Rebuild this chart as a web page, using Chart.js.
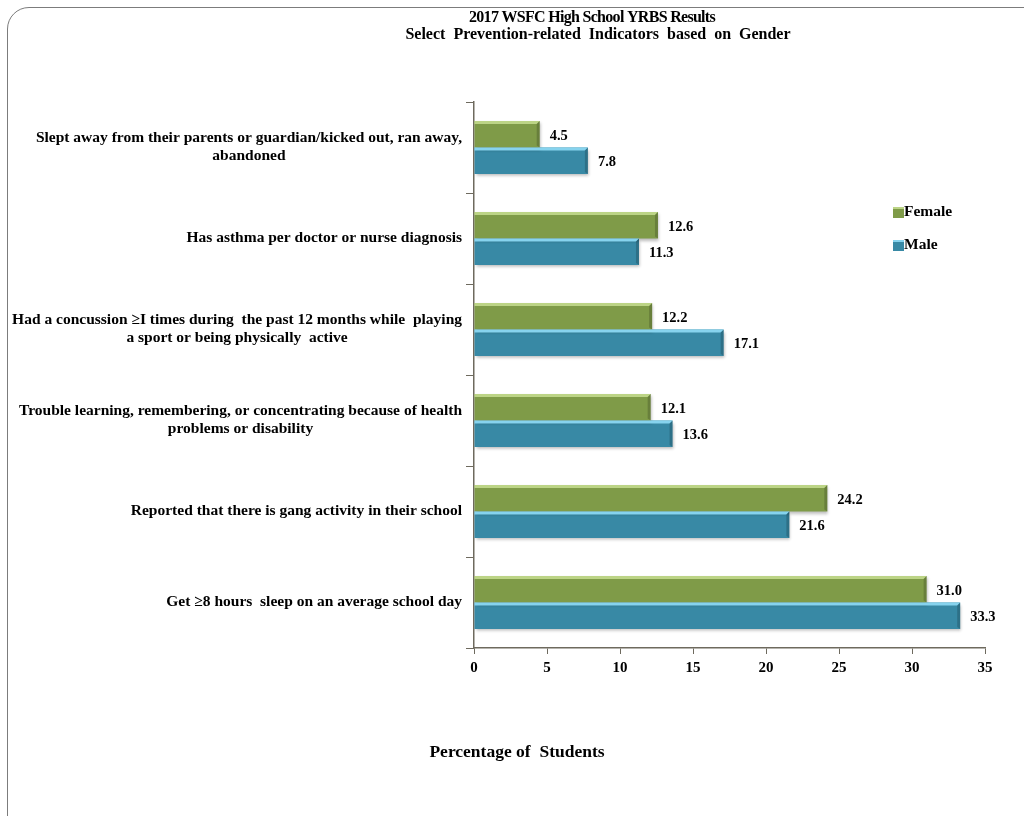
<!DOCTYPE html>
<html>
<head>
<meta charset="utf-8">
<script src="https://cdn.jsdelivr.net/npm/chart.js@4.4.1/dist/chart.umd.min.js"></script>
<style>
  html, body { margin: 0; padding: 0; background: #fff; overflow: hidden; }
  #frame {
    position: absolute; left: 7px; top: 7px; width: 1100px; height: 900px;
    border: 1.5px solid #7c7c7c; border-radius: 22px; box-sizing: border-box;
  }
  #wrap { position: absolute; left: 0; top: 0; width: 1024px; height: 816px; }
</style>
</head>
<body>
<div id="frame"></div>
<div id="wrap"><canvas id="c" width="1024" height="816"></canvas></div>
<script>
// ---- data ------------------------------------------------------------
const categories = [
  ['Slept away from their parents or guardian/kicked out, ran away,', 'abandoned'],
  ['Has asthma per doctor or nurse diagnosis'],
  ['Had a concussion \u2265I times during  the past 12 months while  playing', 'a sport or being physically  active'],
  ['Trouble learning, remembering, or concentrating because of health', 'problems or disability'],
  ['Reported that there is gang activity in their school'],
  ['Get \u22658 hours  sleep on an average school day'],
];
const femaleValues = [4.5, 12.6, 12.2, 12.1, 24.2, 31.0];
const maleValues   = [7.8, 11.3, 17.1, 13.6, 21.6, 33.3];
const seriesNames  = ['Female', 'Male'];
const xTicks       = [0, 5, 10, 15, 20, 25, 30, 35];

const titleLines = ['2017 WSFC High School YRBS Results', 'Select  Prevention-related  Indicators  based  on  Gender'];
const xTitle     = 'Percentage of  Students';

// ---- style -----------------------------------------------------------
const FONT   = "'Liberation Serif', 'Times New Roman', serif";
const GREEN  = '#7f9b48';
const GREEN_HI = '#bcd486';
const BLUE   = '#3889a5';
const BLUE_HI  = '#86d3ee';
const AXIS   = '#6e6a5e';

// 棒の上端ハイライトと影（ベベル風）
const bevel = {
  id: 'bevel',
  beforeDatasetsDraw(chart) {
    const ctx = chart.ctx;
    ctx.save();
    ctx.shadowColor = 'rgba(0,0,0,0.28)';
    ctx.shadowBlur = 3;
    ctx.shadowOffsetX = 1;
    ctx.shadowOffsetY = 2;
  },
  afterDatasetsDraw(chart) {
    const ctx = chart.ctx;
    ctx.restore();
    const hi = [GREEN_HI, BLUE_HI];
    chart.data.datasets.forEach((ds, i) => {
      chart.getDatasetMeta(i).data.forEach(bar => {
        const top = bar.y - bar.height / 2;
        const x0 = bar.base, x1 = bar.x;
        ctx.save();
        ctx.fillStyle = hi[i];
        ctx.beginPath();
        ctx.moveTo(x0, top);
        ctx.lineTo(x1, top);
        ctx.lineTo(x1 - 3, top + 3);
        ctx.lineTo(x0, top + 3);
        ctx.closePath();
        ctx.fill();
        ctx.fillStyle = 'rgba(0,0,0,0.18)';
        ctx.beginPath();
        ctx.moveTo(x1, top);
        ctx.lineTo(x1, top + bar.height);
        ctx.lineTo(x1 - 3, top + bar.height - 2);
        ctx.lineTo(x1 - 3, top + 3);
        ctx.closePath();
        ctx.fill();
        ctx.restore();
      });
    });
  },
};

// 値ラベル・カテゴリラベル・タイトル・凡例
const annotate = {
  id: 'annotate',
  afterDraw(chart) {
    const ctx = chart.ctx;
    const yScale = chart.scales.y;
    ctx.save();
    ctx.fillStyle = '#000';

    // value labels
    ctx.font = `bold 14.5px ${FONT}`;
    ctx.textAlign = 'left';
    ctx.textBaseline = 'middle';
    chart.data.datasets.forEach((ds, i) => {
      chart.getDatasetMeta(i).data.forEach((bar, j) => {
        ctx.fillText(ds.data[j].toFixed(1), bar.x + 10, bar.y + 2);
      });
    });

    // category labels (block right-aligned, lines centered)
    ctx.font = `bold 15.5px ${FONT}`;
    ctx.textAlign = 'center';
    const right = yScale.right - 12;
    categories.forEach((lines, j) => {
      const cy = yScale.getPixelForValue(j);
      const w = Math.max(...lines.map(l => ctx.measureText(l).width));
      const cx = right - w / 2;
      const lh = 18;
      lines.forEach((l, k) => {
        ctx.fillText(l, cx, cy - 1 + (k - (lines.length - 1) / 2) * lh);
      });
    });

    // title
    ctx.font = `bold 16px ${FONT}`;
    ctx.letterSpacing = '-0.7px';
    ctx.fillText(titleLines[0], 592, 18);
    ctx.letterSpacing = '0px';
    ctx.fillText(titleLines[1], 598, 35);

    // x axis title
    ctx.font = `bold 17.5px ${FONT}`;
    ctx.fillText(xTitle, 517, 752);

    // legend
    ctx.font = `bold 15.5px ${FONT}`;
    ctx.textAlign = 'left';
    const cols = [[GREEN, GREEN_HI], [BLUE, BLUE_HI]];
    seriesNames.forEach((name, i) => {
      const y = 212 + i * 33;
      ctx.fillStyle = cols[i][0];
      ctx.fillRect(893, y - 5, 11, 11);
      ctx.fillStyle = cols[i][1];
      ctx.fillRect(893, y - 5, 11, 2);
      ctx.fillStyle = '#000';
      ctx.fillText(name, 904, y);
    });
    ctx.restore();
  },
};

new Chart(document.getElementById('c'), {
  type: 'bar',
  data: {
    labels: categories,
    datasets: [
      { label: seriesNames[0], data: femaleValues, backgroundColor: GREEN, borderWidth: 0 },
      { label: seriesNames[1], data: maleValues,   backgroundColor: BLUE,  borderWidth: 0 },
    ],
  },
  options: {
    indexAxis: 'y',
    responsive: false,
    animation: false,
    events: [],
    categoryPercentage: 0.58,
    barPercentage: 1.0,
    layout: { padding: { top: 102, right: 39, left: 0, bottom: 0 } },
    plugins: {
      legend:  { display: false },
      tooltip: { enabled: false },
      title:   { display: false },
    },
    scales: {
      x: {
        min: 0, max: 35,
        afterBuildTicks: (s) => { s.ticks = xTicks.map(v => ({ value: v })); },
        afterFit: (s) => { s.height = 168; },
        grid:   { drawOnChartArea: false, tickLength: 6, color: AXIS },
        border: { color: AXIS, width: 1.5 },
        ticks:  { color: '#000', font: { family: FONT, size: 15, weight: 'bold' }, padding: 5, maxRotation: 0 },
      },
      y: {
        afterFit: (s) => { s.width = 474; },
        grid:   { drawOnChartArea: false, tickLength: 8, color: AXIS, offset: true },
        border: { color: AXIS, width: 1.5 },
        ticks:  { display: false },
      },
    },
  },
  plugins: [bevel, annotate],
});
</script>
</body>
</html>
